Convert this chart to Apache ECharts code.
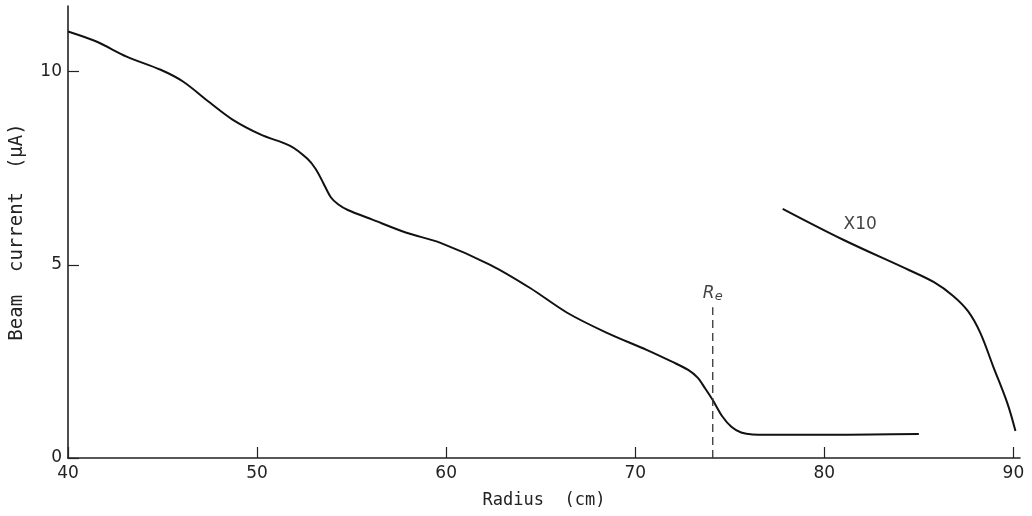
<!DOCTYPE html>
<html>
<head>
<meta charset="utf-8">
<script src="https://cdn.jsdelivr.net/npm/echarts@6/dist/echarts.min.js"></script>
<style>html,body{margin:0;padding:0;background:#fff}#c{width:1032px;height:516px}</style>
</head>
<body>
<div id="c"></div>
<script>
// Main beam current curve (radius cm, current µA)
var mainX = [40, 41.5, 43.1, 44.9, 46.1, 47.5, 48.7, 50.2, 51.75, 52.65, 53.1, 53.5, 53.9, 54.3, 54.8, 56.1, 57.9, 59.7, 62.33, 64.44, 66.4, 68.5, 70.6, 72.0, 72.8, 73.3, 73.7, 74.1, 74.6, 75.1, 75.6, 76.2, 78, 80, 82.5, 85];
var mainY = [11.04, 10.78, 10.39, 10.05, 9.74, 9.2, 8.76, 8.37, 8.08, 7.75, 7.48, 7.12, 6.75, 6.56, 6.42, 6.17, 5.83, 5.57, 5.0, 4.4, 3.76, 3.24, 2.8, 2.48, 2.28, 2.08, 1.8, 1.5, 1.08, 0.8, 0.66, 0.61, 0.60, 0.60, 0.61, 0.62];
// Tail curve magnified x10
var x10X = [77.8, 81.0, 84.5, 85.8, 86.8, 87.6, 88.25, 88.94, 89.68, 90.11];
var x10Y = [6.45, 5.65, 4.86, 4.55, 4.2, 3.8, 3.24, 2.36, 1.42, 0.7];
// Extraction radius marker
var reX = 74.1;
var reTop = 3.9;
var xTicks = [40, 50, 60, 70, 80, 90];
var yTicks = [0, 5, 10];

function zip(a, b) { return a.map(function (v, i) { return [v, b[i]]; }); }

var font = 'DejaVu Sans';
var mono = 'DejaVu Sans Mono';
var chart = echarts.init(document.getElementById('c'));
chart.setOption({
  animation: false,
  backgroundColor: '#fff',
  grid: { left: 68, right: 12, top: 6, bottom: 58, outerBoundsMode: 'none', containLabel: false },
  xAxis: {
    type: 'value', min: 40, max: 90.35,
    name: 'Radius  (cm)', nameLocation: 'middle', nameGap: 34,
    nameTextStyle: { fontFamily: mono, fontSize: 17, color: '#222' },
    splitLine: { show: false },
    axisLine: { lineStyle: { color: '#222', width: 1.6 } },
    axisTick: { inside: true, length: 11, customValues: xTicks, lineStyle: { color: '#222', width: 1.2 } },
    axisLabel: { customValues: xTicks, fontFamily: font, fontSize: 17, color: '#222', margin: 7 }
  },
  yAxis: {
    type: 'value', min: 0, max: 11.7,
    name: 'Beam  current  (μA)', nameLocation: 'middle', nameGap: 41, nameRotate: 90,
    nameTextStyle: { fontFamily: mono, fontSize: 19, color: '#222' },
    splitLine: { show: false },
    axisLine: { show: true, lineStyle: { color: '#222', width: 1.6 } },
    axisTick: { show: true, inside: true, length: 11, customValues: yTicks, lineStyle: { color: '#222', width: 1.2 } },
    axisLabel: { customValues: yTicks, fontFamily: font, fontSize: 17, color: '#222', margin: 6 }
  },
  series: [
    {
      type: 'line', data: zip(mainX, mainY), smooth: 0.3, symbol: 'none',
      lineStyle: { color: '#111', width: 2 }
    },
    {
      type: 'line', data: zip(x10X, x10Y), smooth: 0.35, symbol: 'none',
      lineStyle: { color: '#111', width: 2 }
    },
    {
      type: 'line', data: [[reX, 0], [reX, reTop]], symbol: 'none',
      lineStyle: { color: '#333', width: 1.3, type: [8, 5] }
    },
    {
      type: 'scatter', symbolSize: 0,
      data: [{ value: [reX, reTop], label: { show: true, position: 'top', distance: 4,
        formatter: '{r|R}{e|e}',
        rich: { r: { fontFamily: font, fontStyle: 'italic', fontSize: 17, color: '#111' },
                e: { fontFamily: font, fontStyle: 'italic', fontSize: 13, color: '#111', verticalAlign: 'bottom', padding: [6, 0, 0, 0] } } } },
        { value: [81.9, 6.04], label: { show: true, position: 'inside', formatter: '{t|X10}',
          rich: { t: { fontFamily: font, fontSize: 17, color: '#111' } } } }]
    }
  ]
});
</script>
</body>
</html>
